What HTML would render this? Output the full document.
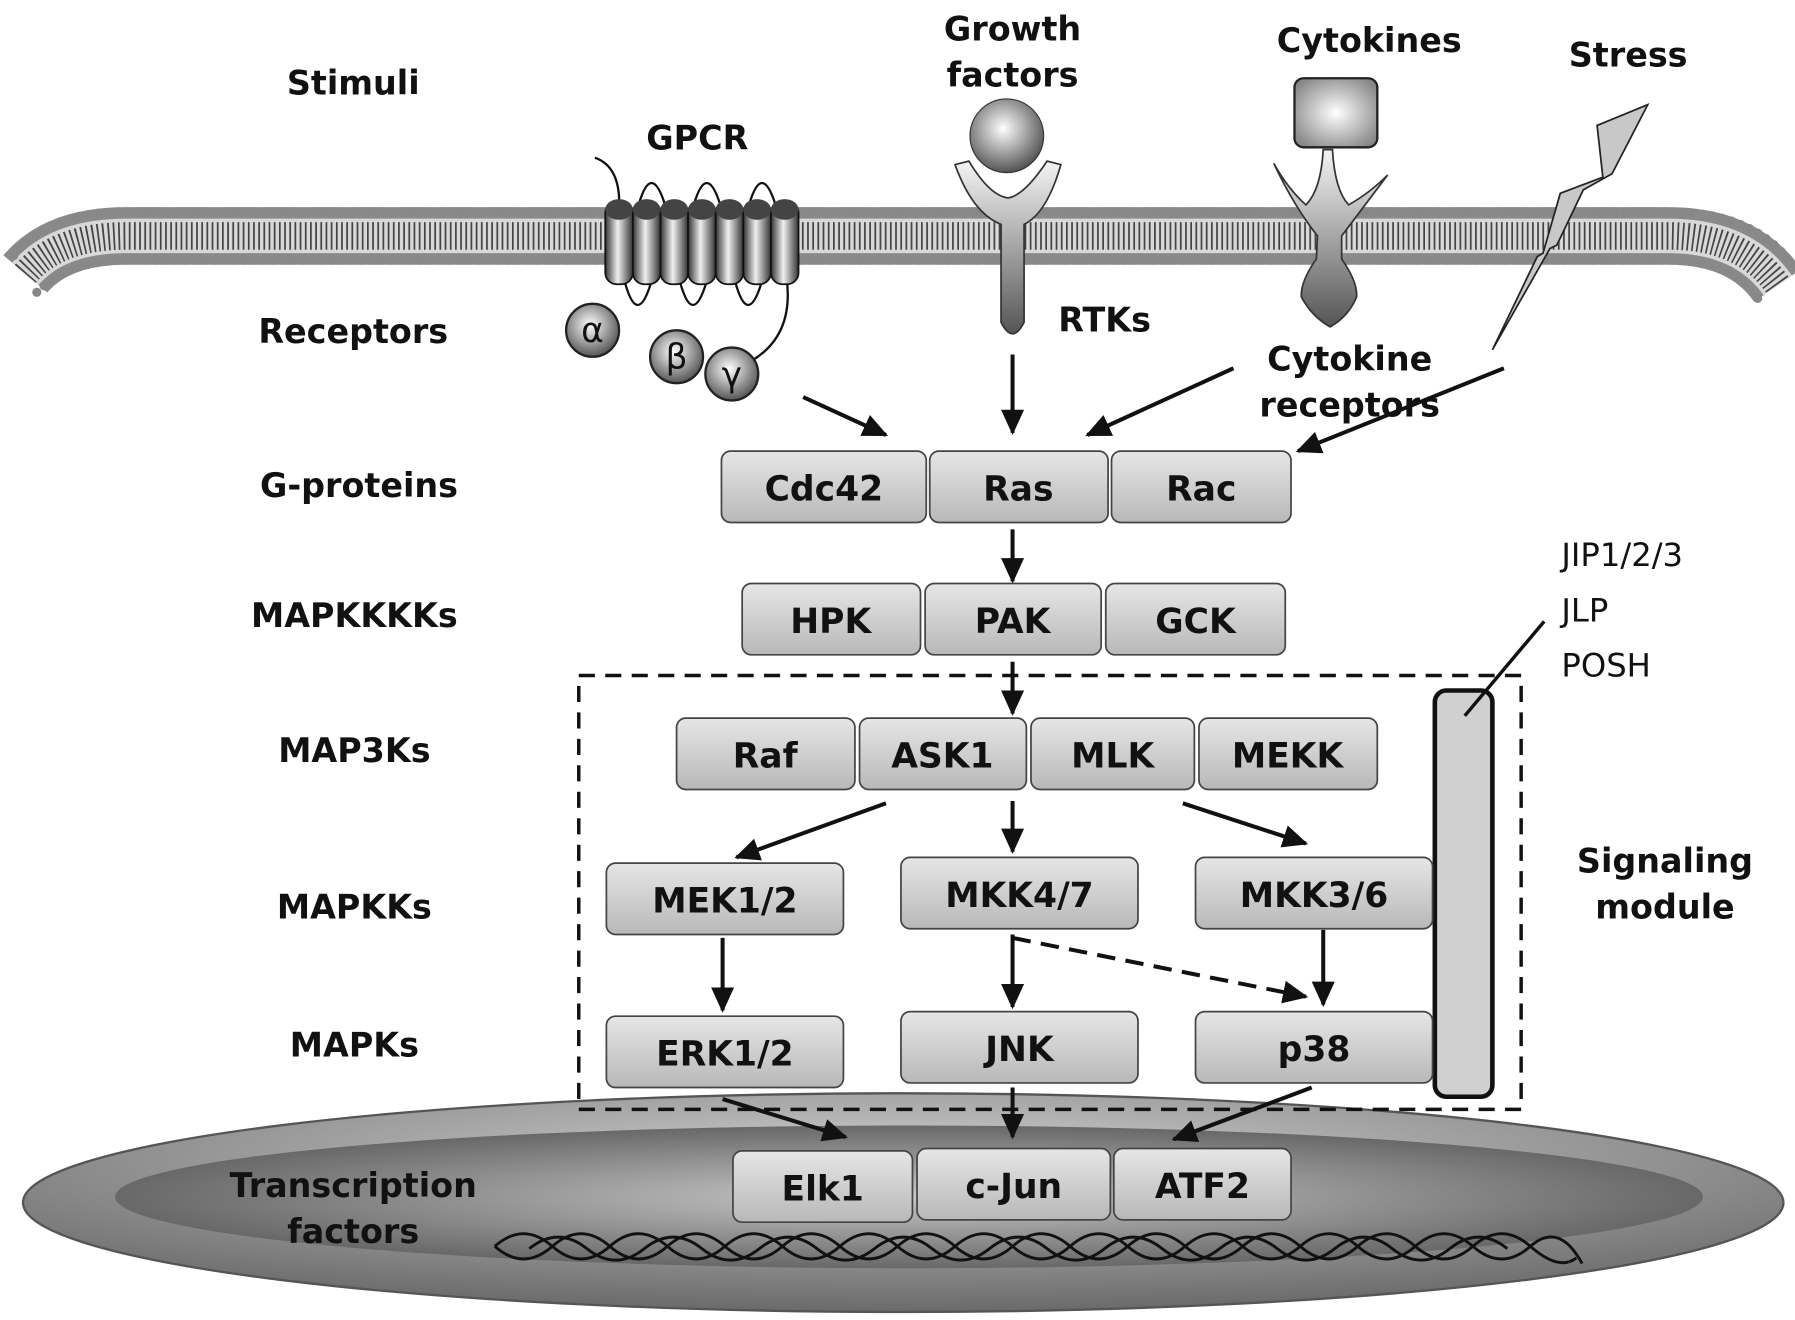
<!DOCTYPE html>
<html><head><meta charset="utf-8"><style>
html,body{margin:0;padding:0;background:#fff;width:1795px;height:1320px;overflow:hidden}
svg{display:block}
text{font-family:"DejaVu Sans","Liberation Sans",sans-serif}
.lb{font-weight:bold;font-size:29px;text-anchor:middle;fill:#111}
.bx{font-weight:bold;font-size:30px;text-anchor:middle;fill:#111}
</style></head><body>
<svg width="1795" height="1320" viewBox="0 0 1560 1147" preserveAspectRatio="none" xmlns="http://www.w3.org/2000/svg">
<defs>
<linearGradient id="bg" x1="0" y1="0" x2="0" y2="1"><stop offset="0" stop-color="#e6e6e6"/><stop offset="1" stop-color="#b8b8b8"/></linearGradient>
<linearGradient id="cyl" x1="0" y1="0" x2="1" y2="0"><stop offset="0" stop-color="#333"/><stop offset="0.45" stop-color="#f0f0f0"/><stop offset="1" stop-color="#333"/></linearGradient>
<radialGradient id="ball" cx="0.45" cy="0.4" r="0.6"><stop offset="0" stop-color="#fff"/><stop offset="1" stop-color="#555"/></radialGradient>
<radialGradient id="sq" cx="0.5" cy="0.5" r="0.6"><stop offset="0" stop-color="#fff"/><stop offset="1" stop-color="#888"/></radialGradient>
<linearGradient id="rec" x1="0" y1="0" x2="0" y2="1"><stop offset="0" stop-color="#f4f4f4"/><stop offset="1" stop-color="#555"/></linearGradient>
<radialGradient id="nuc" cx="0.5" cy="0.3" r="0.7"><stop offset="0" stop-color="#d0d0d0"/><stop offset="1" stop-color="#6a6a6a"/></radialGradient>
<radialGradient id="nuc2" cx="0.5" cy="0.5" r="0.6"><stop offset="0" stop-color="#c8c8c8"/><stop offset="1" stop-color="#555"/></radialGradient>
<marker id="ah2" markerWidth="22" markerHeight="20" refX="20" refY="10" orient="auto" markerUnits="userSpaceOnUse"><path d="M0,0 L22,10 L0,20 z" fill="#111"/></marker>
</defs>

<!-- membrane -->
<path d="M22,238 Q50,205 110,205 L1450,205 Q1515,205 1545,248" fill="none" stroke="#8a8a8a" stroke-width="50"/>
<path d="M22,238 Q50,205 110,205 L1450,205 Q1515,205 1545,248" fill="none" stroke="#d8d8d8" stroke-width="30"/>
<path d="M22,238 Q50,205 110,205 L1450,205 Q1515,205 1545,248" fill="none" stroke="#444" stroke-width="24" stroke-dasharray="1.5 3"/>
<path d="M12,222 Q40,184 110,184 L1450,184 Q1530,184 1563,238" fill="none" stroke="#888" stroke-width="8" stroke-dasharray="0 8.5" stroke-linecap="round"/>
<path d="M32,254 Q60,226 110,226 L1450,226 Q1505,226 1528,260" fill="none" stroke="#888" stroke-width="8" stroke-dasharray="0 8.5" stroke-linecap="round"/>

<!-- GPCR -->
<g fill="none" stroke="#111" stroke-width="2">
<path d="M517,137 Q540,145 538,182"/>
<path d="M555,178 Q566,140 578,178 M603,178 Q614,140 626,178 M651,178 Q662,140 674,178"/>
<path d="M543,245 Q554,285 566,245 M591,245 Q602,285 614,245 M639,245 Q650,285 662,245"/>
<path d="M684,245 Q690,300 640,320"/>
</g>
<g stroke="#111" stroke-width="1.5">
<rect x="526" y="175" width="24" height="72" rx="10" fill="url(#cyl)"/>
<rect x="550" y="175" width="24" height="72" rx="10" fill="url(#cyl)"/>
<rect x="574" y="175" width="24" height="72" rx="10" fill="url(#cyl)"/>
<rect x="598" y="175" width="24" height="72" rx="10" fill="url(#cyl)"/>
<rect x="622" y="175" width="24" height="72" rx="10" fill="url(#cyl)"/>
<rect x="646" y="175" width="24" height="72" rx="10" fill="url(#cyl)"/>
<rect x="670" y="175" width="24" height="72" rx="10" fill="url(#cyl)"/>
</g>
<g fill="#444"><ellipse cx="538" cy="182" rx="12" ry="9"/><ellipse cx="562" cy="182" rx="12" ry="9"/><ellipse cx="586" cy="182" rx="12" ry="9"/><ellipse cx="610" cy="182" rx="12" ry="9"/><ellipse cx="634" cy="182" rx="12" ry="9"/><ellipse cx="658" cy="182" rx="12" ry="9"/><ellipse cx="682" cy="182" rx="12" ry="9"/></g>
<g stroke="#222" stroke-width="2" fill="url(#ball)">
<circle cx="515" cy="287" r="23"/><circle cx="588" cy="310" r="23"/><circle cx="636" cy="325" r="23"/>
</g>
<text x="515" y="297" font-size="30" text-anchor="middle" fill="#111">α</text>
<text x="588" y="320" font-size="30" text-anchor="middle" fill="#111">β</text>
<text x="636" y="336" font-size="30" text-anchor="middle" fill="#111">γ</text>

<!-- RTK -->
<circle cx="875" cy="118" r="32" fill="url(#ball)" stroke="#333"/>
<path d="M830,143 L842,140 Q860,170 876,172 Q890,170 910,140 L922,143 Q910,185 890,195 L890,280 Q880,300 870,280 L870,195 Q845,185 830,143 z" fill="url(#rec)" stroke="#333" stroke-width="1.5"/>

<!-- Cytokine -->
<rect x="1125" y="68" width="72" height="60" rx="8" fill="url(#sq)" stroke="#222" stroke-width="2"/>
<path d="M1150,130 Q1148,165 1135,178 Q1120,165 1107,142 Q1125,180 1145,205 L1144,225 Q1130,245 1131,258 Q1140,275 1156,284 Q1172,275 1179,258 Q1180,245 1166,225 L1166,205 Q1185,180 1206,152 Q1190,168 1172,178 Q1160,165 1158,130 z" fill="url(#rec)" stroke="#333" stroke-width="1.5"/>

<!-- Lightning -->
<path d="M1432,91 L1388,109 L1393,154 L1356,168 L1341,220 L1336,223 L1297,304 L1347,216 L1353,213 L1376,165 L1401,151 z" fill="#c8c8c8" stroke="#222" stroke-width="1.5"/>

<!-- Left labels -->
<text class="lb" x="307" y="82">Stimuli</text>
<text class="lb" x="307" y="298">Receptors</text>
<text class="lb" x="312" y="432">G-proteins</text>
<text class="lb" x="308" y="545">MAPKKKKs</text>
<text class="lb" x="308" y="662">MAP3Ks</text>
<text class="lb" x="308" y="798">MAPKKs</text>
<text class="lb" x="308" y="918">MAPKs</text>

<!-- top labels -->
<text class="lb" x="880" y="35">Growth</text>
<text class="lb" x="880" y="75">factors</text>
<text class="lb" x="1190" y="45">Cytokines</text>
<text class="lb" x="1415" y="58">Stress</text>
<text class="lb" x="606" y="130">GPCR</text>
<text class="lb" x="960" y="288">RTKs</text>
<text class="lb" x="1173" y="322">Cytokine</text>
<text class="lb" x="1173" y="362">receptors</text>

<!-- Nucleus -->
<ellipse cx="785" cy="1045" rx="765" ry="95" fill="url(#nuc)" stroke="#555" stroke-width="2"/>
<ellipse cx="790" cy="1040" rx="690" ry="62" fill="url(#nuc2)"/>
<g fill="none" stroke="#111" stroke-width="2.5">
<path d="M430,1083 q25,-22 50,0 t50,0 t50,0 t50,0 t50,0 t50,0 t50,0 t50,0 t50,0 t50,0 t50,0 t50,0 t50,0 t50,0 t50,0 t50,0 t50,0 t50,0 t45,15"/>
<path d="M430,1083 q25,22 50,0 t50,0 t50,0 t50,0 t50,0 t50,0 t50,0 t50,0 t50,0 t50,0 t50,0 t50,0 t50,0 t50,0 t50,0 t50,0 t50,0 t50,0 t40,10"/>
<path d="M460,1085 q25,-20 50,0 t50,0 t50,0 t50,0 t50,0 t50,0 t50,0 t50,0 t50,0 t50,0 t50,0 t50,0 t50,0 t50,0 t50,0 t50,0 t50,0"/>
</g>
<text class="lb" x="307" y="1040">Transcription</text>
<text class="lb" x="307" y="1080">factors</text>

<!-- Dashed module -->
<rect x="503" y="587" width="819" height="377" fill="none" stroke="#111" stroke-width="3" stroke-dasharray="14 9"/>
<rect x="1247" y="600" width="50" height="353" rx="10" fill="#d0d0d0" stroke="#111" stroke-width="4"/>
<line x1="1273" y1="622" x2="1342" y2="540" stroke="#111" stroke-width="3"/>
<text x="1357" y="492" font-size="28" fill="#111">JIP1/2/3</text>
<text x="1357" y="540" font-size="28" fill="#111">JLP</text>
<text x="1357" y="588" font-size="28" fill="#111">POSH</text>
<text class="lb" x="1447" y="758">Signaling</text>
<text class="lb" x="1447" y="798">module</text>

<!-- Boxes -->
<g stroke="#444" stroke-width="1.5" fill="url(#bg)">
<rect x="627" y="392" width="178" height="62" rx="8"/><rect x="808" y="392" width="155" height="62" rx="8"/><rect x="966" y="392" width="156" height="62" rx="8"/>
<rect x="645" y="507" width="155" height="62" rx="8"/><rect x="804" y="507" width="153" height="62" rx="8"/><rect x="961" y="507" width="156" height="62" rx="8"/>
<rect x="588" y="624" width="155" height="62" rx="8"/><rect x="747" y="624" width="145" height="62" rx="8"/><rect x="896" y="624" width="142" height="62" rx="8"/><rect x="1042" y="624" width="155" height="62" rx="8"/>
<rect x="527" y="750" width="206" height="62" rx="8"/><rect x="783" y="745" width="206" height="62" rx="8"/><rect x="1039" y="745" width="206" height="62" rx="8"/>
<rect x="527" y="883" width="206" height="62" rx="8"/><rect x="783" y="879" width="206" height="62" rx="8"/><rect x="1039" y="879" width="206" height="62" rx="8"/>
<rect x="637" y="1000" width="156" height="62" rx="8"/><rect x="797" y="998" width="168" height="62" rx="8"/><rect x="968" y="998" width="154" height="62" rx="8"/>
</g>
<text class="bx" x="716" y="435">Cdc42</text><text class="bx" x="885" y="435">Ras</text><text class="bx" x="1044" y="435">Rac</text>
<text class="bx" x="722" y="550">HPK</text><text class="bx" x="880" y="550">PAK</text><text class="bx" x="1039" y="550">GCK</text>
<text class="bx" x="665" y="667">Raf</text><text class="bx" x="819" y="667">ASK1</text><text class="bx" x="967" y="667">MLK</text><text class="bx" x="1119" y="667">MEKK</text>
<text class="bx" x="630" y="793">MEK1/2</text><text class="bx" x="886" y="788">MKK4/7</text><text class="bx" x="1142" y="788">MKK3/6</text>
<text class="bx" x="630" y="926">ERK1/2</text><text class="bx" x="886" y="922">JNK</text><text class="bx" x="1142" y="922">p38</text>
<text class="bx" x="715" y="1043">Elk1</text><text class="bx" x="881" y="1041">c-Jun</text><text class="bx" x="1045" y="1041">ATF2</text>

<!-- Arrows -->
<g stroke="#111" stroke-width="3.5" fill="none" marker-end="url(#ah2)">
<line x1="698" y1="345" x2="770" y2="378"/>
<line x1="880" y1="308" x2="880" y2="376"/>
<line x1="1072" y1="320" x2="945" y2="378"/>
<line x1="1307" y1="320" x2="1128" y2="392"/>
<line x1="880" y1="460" x2="880" y2="505"/>
<line x1="880" y1="575" x2="880" y2="620"/>
<line x1="770" y1="698" x2="640" y2="745"/>
<line x1="880" y1="696" x2="880" y2="740"/>
<line x1="1028" y1="698" x2="1135" y2="733"/>
<line x1="628" y1="815" x2="628" y2="878"/>
<line x1="880" y1="812" x2="880" y2="875"/>
<line x1="1150" y1="808" x2="1150" y2="873"/>
<line x1="880" y1="815" x2="1135" y2="866" stroke-dasharray="16 9"/>
<line x1="628" y1="955" x2="735" y2="988"/>
<line x1="880" y1="945" x2="880" y2="988"/>
<line x1="1140" y1="945" x2="1020" y2="990"/>
</g>
</svg>
</body></html>
